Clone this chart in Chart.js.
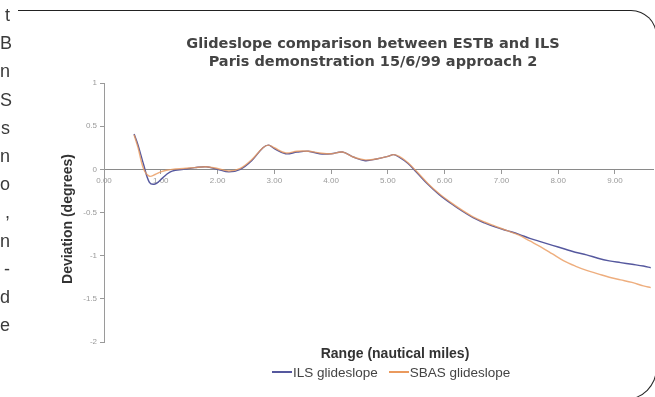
<!DOCTYPE html>
<html>
<head>
<meta charset="utf-8">
<script src="https://cdn.jsdelivr.net/npm/chart.js@4.4.1/dist/chart.umd.min.js"></script>
<style>
  html, body { margin: 0; padding: 0; background: #fff; }
  #page { position: relative; width: 655px; height: 397px; overflow: hidden; background: #fff; }
  #chart { position: absolute; left: 0; top: 0; }
  #frame {
    position: absolute; left: 18px; top: 10px; width: 639px; height: 390px;
    box-sizing: border-box; border: 1.3px solid #222; border-left: none;
    border-radius: 0 26px 32px 0;
  }
  #margin-text {
    position: absolute; left: 0; top: 1px; width: 10px; text-align: right;
    font: 18px "Liberation Sans", Arial, sans-serif; line-height: 28.2px; color: #3a3a3a;
  }
  .title {
    position: absolute; left: 123px; width: 500px; text-align: center;
    font: bold 14.5px "DejaVu Sans", Verdana, sans-serif; color: #444; line-height: 18px;
  }
  #x-title {
    position: absolute; left: 270px; width: 250px; top: 345px; text-align: center;
    font: bold 14px "Liberation Sans", Arial, sans-serif; color: #333; line-height: 16px;
  }
  #y-title {
    position: absolute; left: -58px; width: 250px; top: 211px; text-align: center;
    font: bold 14px "Liberation Sans", Arial, sans-serif; color: #333; line-height: 16px;
    transform: rotate(-90deg);
  }
  #legend {
    position: absolute; left: 272px; top: 365px; white-space: nowrap;
    font: 13.5px "Liberation Sans", Arial, sans-serif; color: #444; line-height: 16px;
  }
  #legend .item { display: inline-block; margin-right: 11px; }
  #legend .swatch { display: inline-block; width: 20px; height: 2px; vertical-align: middle; margin-right: 1px; position: relative; top: -1px; }
</style>
</head>
<body>
<div id="page">
  <canvas id="chart" width="655" height="397"></canvas>
  <div id="frame"></div>
  <div id="margin-text"></div>
  <div class="title" id="title1" style="top:34px"></div>
  <div class="title" id="title2" style="top:52px"></div>
  <div id="x-title"></div>
  <div id="y-title"></div>
  <div id="legend"></div>
</div>
<script>
// Glideslope deviation versus range, approach 2
const chartTitle = "Glideslope comparison between ESTB and ILS";
const chartSubtitle = "Paris demonstration 15/6/99 approach 2";
const xAxisTitle = "Range (nautical miles)";
const yAxisTitle = "Deviation (degrees)";
const seriesNames = ["ILS glideslope", "SBAS glideslope"];
const seriesColors = ["#55589e", "#ea9a5e"];

// Fragment of the neighbouring text column
const marginLetters = ["t", "B", "n", "S", "s", "n", "o", ",", "n", "-", "d", "e"];

// Range in nautical miles
const rangeNm = [
  0.53, 0.6, 0.7, 0.8, 0.9, 1.0, 1.1, 1.2, 1.4, 1.6, 1.8, 2.0, 2.2, 2.4, 2.6, 2.8, 2.9,
  3.0, 3.2, 3.4, 3.6, 3.8, 4.0, 4.2, 4.4, 4.6, 4.8, 5.0, 5.1, 5.2, 5.35, 5.5, 5.7, 5.9,
  6.1, 6.3, 6.5, 6.7, 6.9, 7.1, 7.3, 7.5, 7.7, 7.9, 8.1, 8.3, 8.5, 8.7, 8.9, 9.1, 9.3,
  9.5, 9.63
];

// Deviation in degrees
const ilsDeviation = [
  0.41, 0.28, 0.05, -0.15, -0.17, -0.12, -0.06, -0.02, 0.0, 0.02, 0.03, 0.0, -0.03, 0.0,
  0.10, 0.25, 0.28, 0.24, 0.18, 0.20, 0.21, 0.18, 0.18, 0.20, 0.14, 0.10, 0.12, 0.15,
  0.17, 0.14, 0.07, -0.03, -0.17, -0.29, -0.39, -0.48, -0.56, -0.62, -0.67, -0.71,
  -0.75, -0.80, -0.84, -0.88, -0.92, -0.96, -0.99, -1.03, -1.06, -1.08, -1.10, -1.12, -1.14
];
const sbasDeviation = [
  0.40, 0.25, 0.0, -0.08, -0.06, -0.03, -0.01, 0.0, 0.01, 0.02, 0.03, 0.01, -0.02, 0.01,
  0.11, 0.25, 0.28, 0.25, 0.19, 0.21, 0.21, 0.19, 0.18, 0.20, 0.14, 0.11, 0.12, 0.15,
  0.17, 0.15, 0.08, -0.02, -0.16, -0.28, -0.38, -0.47, -0.55, -0.61, -0.66, -0.71,
  -0.76, -0.83, -0.90, -0.98, -1.06, -1.12, -1.17, -1.21, -1.25, -1.28, -1.31, -1.35, -1.37
];

// Axis tick values
const xTickValues = [0, 1, 2, 3, 4, 5, 6, 7, 8, 9];
const yTickValues = [1, 0.5, 0, -0.5, -1, -1.5, -2];

// Text elements
document.getElementById("margin-text").innerHTML = marginLetters.map(c => "<div>" + c + "</div>").join("");
document.getElementById("title1").textContent = chartTitle;
document.getElementById("title2").textContent = chartSubtitle;
document.getElementById("x-title").textContent = xAxisTitle;
document.getElementById("y-title").textContent = yAxisTitle;
document.getElementById("legend").innerHTML = seriesNames.map((n, i) =>
  '<span class="item"><span class="swatch" style="background:' + seriesColors[i] + '"></span>' + n + '</span>'
).join("");

const toPoints = values => rangeNm.map((x, i) => ({ x: x, y: values[i] }));

new Chart(document.getElementById("chart"), {
  type: "line",
  data: {
    datasets: [
      { label: seriesNames[0], data: toPoints(ilsDeviation), borderColor: seriesColors[0],
        borderWidth: 1.4, pointRadius: 0, tension: 0.35, order: 1 },
      { label: seriesNames[1], data: toPoints(sbasDeviation), borderColor: "rgba(234,154,94,0.8)",
        borderWidth: 1.4, pointRadius: 0, tension: 0.35, order: 0 }
    ]
  },
  options: {
    responsive: false,
    animation: false,
    events: [],
    layout: { padding: { top: 83, bottom: 55, left: 63, right: 2 } },
    plugins: { legend: { display: false }, title: { display: false }, tooltip: { enabled: false } },
    scales: {
      x: {
        type: "linear",
        position: { y: 0 },
        min: 0,
        max: 9.67,
        afterBuildTicks: s => { s.ticks = xTickValues.map(v => ({ value: v })); },
        ticks: {
          callback: v => Number(v).toFixed(2),
          font: { size: 8, family: "Liberation Sans" },
          color: "#9a9a9a",
          padding: 3,
          maxRotation: 0
        },
        grid: { drawOnChartArea: false, tickLength: 4, color: "#999" },
        border: { color: "#8a8a8a", width: 1 }
      },
      y: {
        type: "linear",
        position: "left",
        min: -2,
        max: 1,
        afterBuildTicks: s => { s.ticks = yTickValues.map(v => ({ value: v })); },
        afterFit: s => { s.width = 41; },
        ticks: {
          callback: v => String(v),
          font: { size: 8, family: "Liberation Sans" },
          color: "#9a9a9a",
          padding: 3
        },
        grid: { drawOnChartArea: false, tickLength: 4, color: "#999" },
        border: { color: "#9a9a9a", width: 1 }
      }
    }
  }
});
</script>
</body>
</html>
